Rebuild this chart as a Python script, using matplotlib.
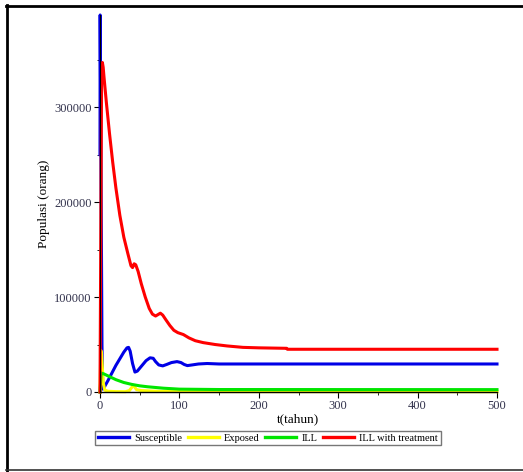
import matplotlib
matplotlib.use("Agg")
import matplotlib.pyplot as plt
from matplotlib.lines import Line2D
from matplotlib.ticker import MultipleLocator

# values
t_susceptible = [0, 0.2, 2.5, 3.5, 6, 10, 15, 20, 25, 30, 34, 36, 38, 41, 44,
                 47, 52, 58, 63, 67, 70, 74, 79, 84, 90, 97, 102, 106, 110,
                 116, 124, 135, 150, 170, 500]
susceptible = [250000, 397000, 49000, 3000, 6000, 12000, 20000, 28000, 35000,
               42000, 46500, 47000, 43000, 30000, 21000, 22000, 27000, 33000,
               36000, 35500, 32000, 28500, 27500, 29000, 31000, 32000, 31000,
               29000, 27800, 28500, 29500, 30000, 29500, 29500, 29500]

t_exposed = [0, 1, 2, 4, 6, 10, 20, 32, 37, 42, 46, 52, 70, 100, 500]
exposed = [0, 44000, 40000, 10000, 2000, 800, 400, 300, 1500, 7000, 2500,
           1500, 800, 400, 300]

t_ill = [0, 1.5, 5, 10, 20, 30, 40, 50, 60, 80, 100, 150, 500]
ill = [0, 20000, 19000, 17000, 13000, 10000, 8000, 6500, 5500, 4000, 3000,
       2600, 2500]

t_treat = [0, 2, 3, 4, 5, 8, 12, 16, 20, 25, 30, 35, 39, 41, 43, 45, 48, 52,
           57, 62, 66, 70, 73, 76, 79, 83, 88, 93, 98, 105, 112, 120, 130, 145,
           160, 180, 200, 235, 236, 500]
ill_treatment = [0, 330000, 347000, 342000, 332000, 305000, 272000, 242000,
                 215000, 186000, 163000, 146000, 133000, 131000, 135000,
                 134000, 127000, 114000, 100000, 88000, 82000, 80000, 81500,
                 83000, 81000, 76000, 70000, 65000, 62500, 60500, 57000,
                 54000, 52000, 50000, 48500, 47000, 46500, 46000, 45000, 45000]

labels = ["Susceptible", "Exposed", "ILL", "ILL with treatment"]
colors = ["#0000e6", "#ffff00", "#00e600", "#ff0000"]

plt.rcParams["font.family"] = ["Liberation Serif", "DejaVu Serif"]

fig = plt.figure(figsize=(5.23, 4.72), dpi=100)
ax = fig.add_axes([100 / 523, 80 / 472, 397 / 523, 377 / 472])

series = [(t_susceptible, susceptible), (t_exposed, exposed),
          (t_ill, ill), (t_treat, ill_treatment)]
for (tt, yy), c in zip(series, colors):
    ax.plot(tt, yy, color=c, lw=2.2, solid_joinstyle="round", clip_on=False)

ax.set_xlim(0, 500)
ax.set_ylim(0, 397000)
ax.xaxis.set_major_locator(MultipleLocator(100))
ax.xaxis.set_minor_locator(MultipleLocator(50))
ax.yaxis.set_major_locator(MultipleLocator(100000))
ax.yaxis.set_minor_locator(MultipleLocator(50000))
for s in ["top", "right"]:
    ax.spines[s].set_visible(False)
ax.spines["left"].set_linewidth(0.8)
ax.spines["bottom"].set_linewidth(1.0)
ax.tick_params(which="major", length=4, width=0.8, labelsize=9,
               labelcolor="#33334d", pad=2)
ax.tick_params(which="minor", length=2.5, width=0.6)

ax.set_xlabel("t(tahun)", fontsize=9.5, labelpad=1)
ax.set_ylabel("Populasi (orang)", fontsize=9.5, labelpad=3)

handles = [Line2D([], [], color=c, lw=2.4) for c in colors]
fig.legend(handles, labels, loc="center", bbox_to_anchor=(268 / 523, 1 - 438 / 472),
           ncol=4, fontsize=7.5, frameon=True, fancybox=False,
           edgecolor="#555555", handlelength=3.0, handletextpad=0.5,
           columnspacing=0.5, borderpad=0.25, borderaxespad=0)

# outer frame of the screenshot
fig.add_artist(Line2D([7 / 523, 7 / 523], [0, 1 - 5 / 472], color="black", lw=2,
                      transform=fig.transFigure))
fig.add_artist(Line2D([6 / 523, 1], [1 - 6 / 472, 1 - 6 / 472], color="black", lw=2,
                      transform=fig.transFigure))
fig.add_artist(Line2D([6 / 523, 1], [2 / 472, 2 / 472], color="#333333", lw=1.2,
                      transform=fig.transFigure))

fig.savefig("out.png", dpi=100)
